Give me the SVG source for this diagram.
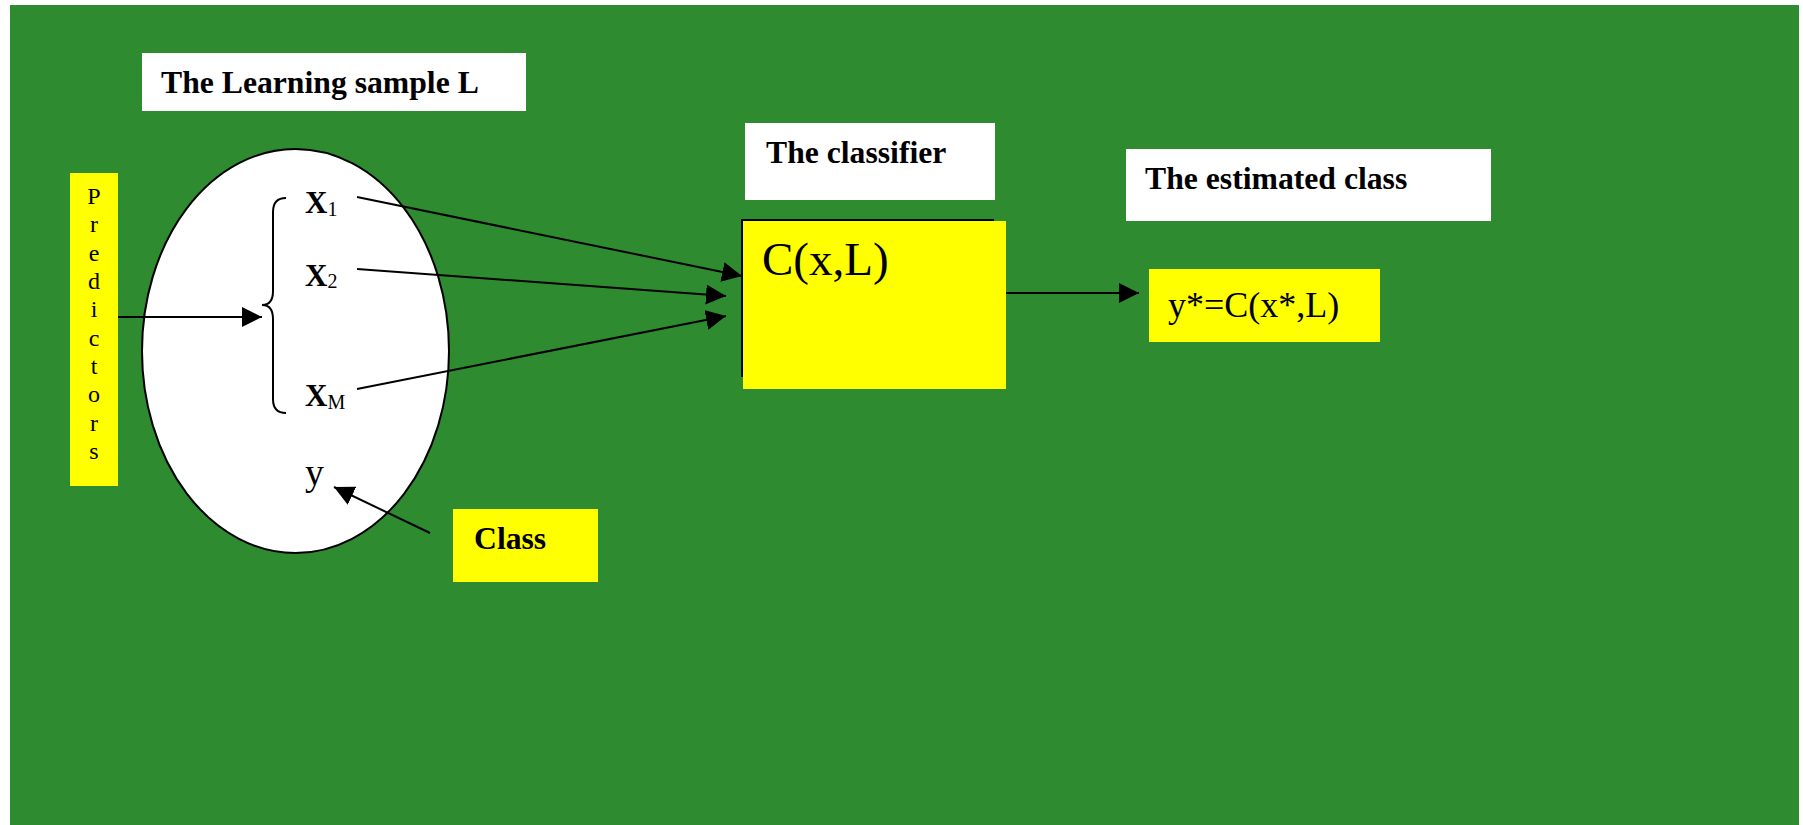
<svg xmlns="http://www.w3.org/2000/svg" width="1803" height="825" viewBox="0 0 1803 825">
<style>
.lbl{font-family:"Liberation Serif","Times New Roman",serif;font-weight:bold;font-size:31.7px;fill:#000}
.reg{font-family:"Liberation Serif","Times New Roman",serif;fill:#000}
.conn{stroke:#000;stroke-width:2;fill:none}
.wbox{fill:#fff}
.ybox{fill:#ffff00}
</style>
<defs>
<marker id="ah" markerUnits="userSpaceOnUse" markerWidth="20" markerHeight="20" refX="20" refY="10" orient="auto">
<path d="M0,0 L20,10 L0,20 z" fill="#000"/>
</marker>
</defs>
<rect x="0" y="0" width="1803" height="825" fill="#fff"/>
<rect x="10" y="5" width="1789" height="820" fill="#2e8b30"/>

<g id="learning-label">
<rect class="wbox" x="142" y="53" width="384" height="58"/>
<text class="lbl" x="161" y="93">The Learning sample L</text>
</g>

<g id="predictors">
<rect class="ybox" x="70" y="173" width="48" height="313"/>
<g class="reg" font-size="24" text-anchor="middle">
<text x="94" y="204">P</text>
<text x="94" y="232">r</text>
<text x="94" y="261">e</text>
<text x="94" y="289">d</text>
<text x="94" y="317">i</text>
<text x="94" y="346">c</text>
<text x="94" y="374">t</text>
<text x="94" y="402">o</text>
<text x="94" y="431">r</text>
<text x="94" y="459">s</text>
</g>
</g>

<g id="sample">
<ellipse cx="295.5" cy="351" rx="153.5" ry="202" fill="#fff" stroke="#000" stroke-width="2"/>
<path class="conn" d="M286,198 Q273,198 273,212 L273,291 Q273,305 262,305 Q273,305 273,319 L273,399 Q273,413 286,413"/>
<text class="reg" x="305" y="213" font-size="31" font-weight="bold">X<tspan font-size="20" font-weight="normal" dy="3">1</tspan></text>
<text class="reg" x="305" y="286" font-size="31" font-weight="bold">X<tspan font-size="20" font-weight="normal" dy="2">2</tspan></text>
<text class="reg" x="305" y="406" font-size="31" font-weight="bold">X<tspan font-size="20" font-weight="normal" dy="3">M</tspan></text>
<text class="reg" x="305" y="485" font-size="38">y</text>
</g>

<g id="class-label">
<rect class="ybox" x="453" y="509" width="145" height="73"/>
<text class="lbl" x="474" y="549" font-size="30.5">Class</text>
</g>

<g id="classifier-label">
<rect class="wbox" x="745" y="123" width="250" height="77"/>
<text class="lbl" x="766" y="163">The classifier</text>
</g>

<g id="classifier">
<rect x="742" y="220" width="251" height="156" fill="none" stroke="#000" stroke-width="2"/>
<rect class="ybox" x="743" y="221" width="263" height="168"/>
<text class="reg" x="762" y="275" font-size="47">C(x,L)</text>
</g>

<g id="estimated-label">
<rect class="wbox" x="1126" y="149" width="365" height="72"/>
<text class="lbl" x="1145" y="189">The estimated class</text>
</g>

<g id="estimate">
<rect class="ybox" x="1149" y="269" width="231" height="73"/>
<text class="reg" x="1168" y="317" font-size="36">y*=C(x*,L)</text>
</g>

<g id="connectors">
<line class="conn" x1="118" y1="317" x2="262" y2="317" marker-end="url(#ah)"/>
<line class="conn" x1="357" y1="197" x2="742" y2="276" marker-end="url(#ah)"/>
<line class="conn" x1="357" y1="269" x2="726" y2="296" marker-end="url(#ah)"/>
<line class="conn" x1="357" y1="389" x2="726" y2="316" marker-end="url(#ah)"/>
<line class="conn" x1="430" y1="533" x2="334" y2="487" marker-end="url(#ah)"/>
<line class="conn" x1="1006" y1="293" x2="1139" y2="293" marker-end="url(#ah)"/>
</g>
</svg>
